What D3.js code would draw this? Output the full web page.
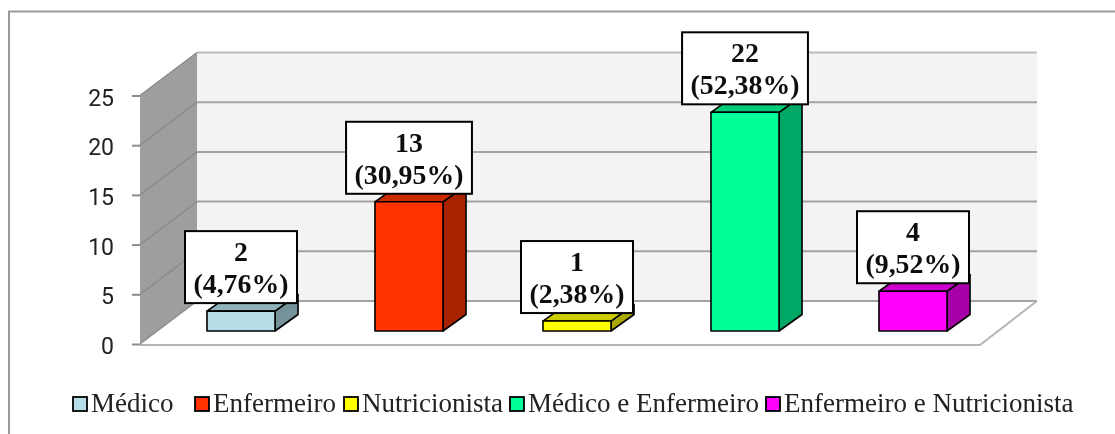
<!DOCTYPE html>
<html>
<head>
<meta charset="utf-8">
<script src="https://cdn.jsdelivr.net/npm/d3@7"></script>
<style>
  html, body { margin: 0; background: #fff; overflow: hidden; }
  svg { display: block; }
</style>
</head>
<body>
<div id="chart"></div>
<script>
const categorias = ['Médico', 'Enfermeiro', 'Nutricionista', 'Médico e Enfermeiro', 'Enfermeiro e Nutricionista'];
const valores = [2, 13, 1, 22, 4];
const percentuais = ['(4,76%)', '(30,95%)', '(2,38%)', '(52,38%)', '(9,52%)'];
const cores = ['#b7dee8', '#ff3300', '#ffff00', '#00ff99', '#ff00ff'];
const coresLado = ['#76929a', '#a82200', '#a8a800', '#00a866', '#a800a8'];
const coresTopo = ['#8fb2bb', '#cc2900', '#cccc00', '#00cc7a', '#cc00cc'];
const ticks = [0, 5, 10, 15, 20, 25];
const legendaX = [73, 195, 344, 510, 766];

const width = 1115;
const height = 434;

const svg = d3.select('#chart')
    .append('svg')
    .attr('width', width)
    .attr('height', height);

const defs = svg.append('defs');
defs.append('filter').attr('id', 'soft')
    .append('feGaussianBlur').attr('stdDeviation', 0.45);

const root = svg.append('g').attr('filter', 'url(#soft)');

// moldura, so aparece em cima e na esquerda
root.append('path')
    .attr('d', `M9,${height}V11.5H${width}`)
    .attr('fill', 'none')
    .attr('stroke', '#999')
    .attr('stroke-width', 2);

const yScale = d3.scaleLinear().domain([0, 25]).range([344, 95.5]);
const xScale = d3.scaleBand()
    .domain(categorias)
    .range([157, 997])
    .paddingInner(0.595)
    .paddingOuter(0.2975);

const left = 140, right = 980;
const wallDx = 57, wallDy = -43;
const barDx = 23, barDy = -16.5;
const barBase = yScale(0) - 13;

// paredes do grafico
root.append('rect')
    .attr('x', left + wallDx)
    .attr('y', yScale(25) + wallDy)
    .attr('width', right - left)
    .attr('height', yScale(0) - yScale(25))
    .attr('fill', '#f3f3f3');

root.append('polygon')
    .attr('points', [
        [left, yScale(25)],
        [left + wallDx, yScale(25) + wallDy],
        [left + wallDx, yScale(0) + wallDy],
        [left, yScale(0)]
    ].join(' '))
    .attr('fill', '#9e9e9e');

root.selectAll('.grid')
    .data(ticks)
    .enter()
    .append('line')
    .classed('grid', true)
    .attr('x1', left + wallDx)
    .attr('x2', right + wallDx)
    .attr('y1', d => yScale(d) + wallDy)
    .attr('y2', d => yScale(d) + wallDy)
    .attr('stroke', d => d === 25 ? '#bdbdbd' : '#a3a3a3')
    .attr('stroke-width', 2);

root.selectAll('.grid-side')
    .data(ticks)
    .enter()
    .append('line')
    .classed('grid-side', true)
    .attr('x1', left)
    .attr('x2', left + wallDx)
    .attr('y1', d => yScale(d))
    .attr('y2', d => yScale(d) + wallDy)
    .attr('stroke', '#8c8c8c')
    .attr('stroke-width', 1.5);

// chao
root.append('path')
    .attr('d', `M${left},${yScale(0) + 1}H${right}L${right + wallDx},${yScale(0) + wallDy}`)
    .attr('fill', 'none')
    .attr('stroke', '#b5b5b5')
    .attr('stroke-width', 2);

const yAxis = d3.axisLeft(yScale)
    .tickValues(ticks)
    .tickSize(8)
    .tickPadding(18);

const axisG = root.append('g')
    .attr('transform', `translate(${left},0)`)
    .call(yAxis);
axisG.select('.domain').remove();
axisG.selectAll('line').attr('stroke', '#8c8c8c').attr('stroke-width', 2);
axisG.selectAll('text')
    .attr('dy', '0.42em')
    .style('font-family', 'Roboto, sans-serif')
    .style('font-size', '23px')
    .style('fill', '#222');

// barras
const dados = categorias.map((c, i) => ({
    categoria: c,
    valor: valores[i],
    pct: percentuais[i],
    cor: cores[i],
    lado: coresLado[i],
    topo: coresTopo[i]
}));
const barTop = d => barBase - (yScale(0) - yScale(d.valor));

const bars = root.selectAll('.bar')
    .data(dados)
    .enter()
    .append('g')
    .classed('bar', true);

bars.append('polygon')
    .attr('points', d => {
        const x1 = xScale(d.categoria) + xScale.bandwidth();
        return [[x1, barTop(d)], [x1 + barDx, barTop(d) + barDy], [x1 + barDx, barBase + barDy], [x1, barBase]].join(' ');
    })
    .attr('fill', d => d.lado);

bars.append('polygon')
    .attr('points', d => {
        const x0 = xScale(d.categoria);
        const x1 = x0 + xScale.bandwidth();
        return [[x0, barTop(d)], [x0 + barDx, barTop(d) + barDy], [x1 + barDx, barTop(d) + barDy], [x1, barTop(d)]].join(' ');
    })
    .attr('fill', d => d.topo);

bars.append('rect')
    .attr('x', d => xScale(d.categoria))
    .attr('y', barTop)
    .attr('width', xScale.bandwidth())
    .attr('height', d => barBase - barTop(d))
    .attr('fill', d => d.cor);

bars.selectAll('polygon, rect')
    .attr('stroke', '#000')
    .attr('stroke-width', 1.6)
    .attr('stroke-linejoin', 'round');

// rotulos de dados
const boxH = 72;
const labels = root.selectAll('.bar-label')
    .data(dados)
    .enter()
    .append('g')
    .classed('bar-label', true)
    .attr('transform', d => `translate(${xScale(d.categoria) + xScale.bandwidth() / 2},${barTop(d) - 8 - boxH})`);

const box = labels.append('rect')
    .attr('y', 0)
    .attr('height', boxH)
    .attr('fill', '#fff')
    .attr('stroke', '#000')
    .attr('stroke-width', 2);

labels.append('text')
    .attr('y', 30)
    .text(d => d.valor);

labels.append('text')
    .attr('y', 62)
    .text(d => d.pct);

labels.selectAll('text')
    .attr('text-anchor', 'middle')
    .style('font-family', '"Liberation Serif", serif')
    .style('font-weight', 'bold')
    .style('font-size', '27.8px')
    .style('fill', '#111');

box.each(function () {
    const w = this.parentNode.querySelectorAll('text')[1].getComputedTextLength() + 17;
    d3.select(this).attr('x', -w / 2).attr('width', w);
});

// legenda
const legend = root.selectAll('.legend')
    .data(dados)
    .enter()
    .append('g')
    .classed('legend', true)
    .attr('transform', (d, i) => `translate(${legendaX[i]},397)`);

legend.append('rect')
    .attr('width', 14)
    .attr('height', 14)
    .attr('fill', d => d.cor)
    .attr('stroke', '#000')
    .attr('stroke-width', 1.8);

legend.append('text')
    .attr('x', 18)
    .attr('y', 15)
    .style('font-family', '"Liberation Serif", serif')
    .style('font-size', '27px')
    .style('fill', '#222')
    .text(d => d.categoria);
</script>
</body>
</html>
